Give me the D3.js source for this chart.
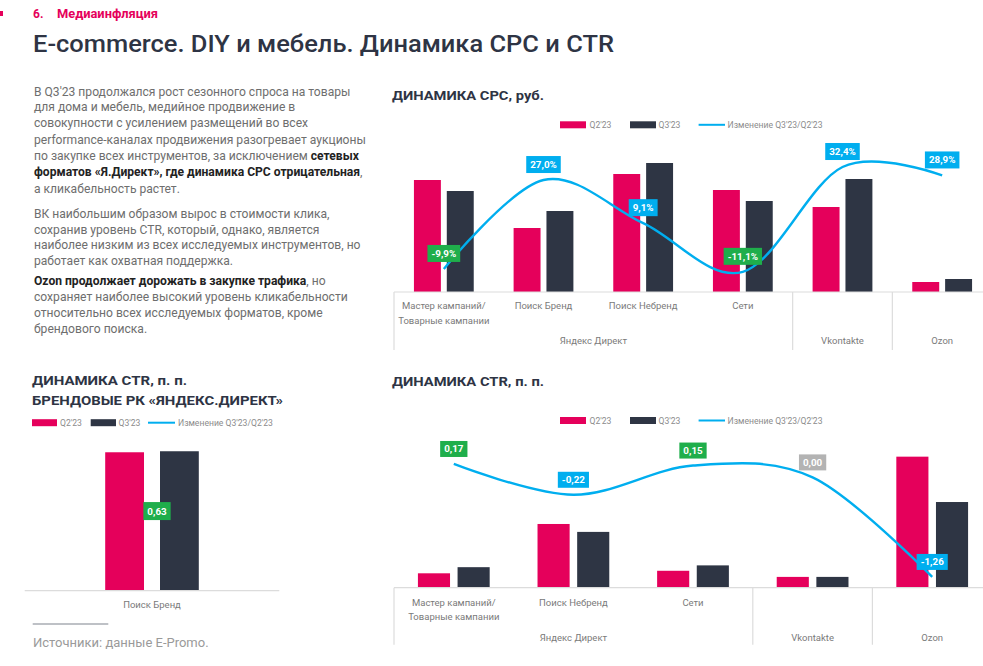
<!DOCTYPE html>
<html><head><meta charset="utf-8">
<script src="https://cdn.jsdelivr.net/npm/d3@7"></script>
<style>
body{margin:0;background:#fff;}
svg{display:block;font-family:Roboto,"Noto Sans",sans-serif;}
</style></head><body>
<svg id="chart" width="983" height="666"></svg>
<script>
// ---------------- DATA ----------------
const cpcCategories = ["Мастер кампаний/\nТоварные кампании", "Поиск Бренд", "Поиск Небренд", "Сети", "", ""];
const cpcGroups = ["Яндекс Директ", "Яндекс Директ", "Яндекс Директ", "Яндекс Директ", "Vkontakte", "Ozon"];
const cpcQ2 = [11.2, 6.4, 11.8, 10.2, 8.5, 1.0];
const cpcQ3 = [10.1, 8.1, 12.9, 9.1, 11.3, 1.3];
const cpcChange = [-9.9, 27.0, 9.1, -11.1, 32.4, 28.9];

const ctrCategories = ["Мастер кампаний/\nТоварные кампании", "Поиск Небренд", "Сети", "", ""];
const ctrGroups = ["Яндекс Директ", "Яндекс Директ", "Яндекс Директ", "Vkontakte", "Ozon"];
const ctrQ2 = [0.40, 1.77, 0.47, 0.30, 3.64];
const ctrQ3 = [0.57, 1.55, 0.62, 0.30, 2.38];
const ctrChange = [0.17, -0.22, 0.15, 0.00, -1.26];

const brandCategories = ["Поиск Бренд"];
const brandQ2 = [85.4];
const brandQ3 = [86.03];
const brandChange = [0.63];

const legendLabels = ["Q2'23", "Q3'23", "Изменение Q3'23/Q2'23"];

// ---------------- STYLE ----------------
const PINK = "#e5005b", DARK = "#2e3544", CYAN = "#00aeef", GREEN = "#1fae4b", GREY = "#b3b3b3";
const TXT = "#2e3444", AXIS = "#dcdcdc", LABEL = "#7a7a7a";

const svg = d3.select("#chart");

// header
svg.append("rect").attr("x", 0).attr("y", 11).attr("width", 3).attr("height", 5).attr("fill", PINK);
svg.append("text").attr("x", 33).attr("y", 17.5).attr("font-size", 12).attr("font-weight", 700)
  .attr("fill", PINK).text("6.");
svg.append("text").attr("x", 57).attr("y", 17.5).attr("font-size", 12).attr("font-weight", 700)
  .attr("fill", PINK).attr("textLength", 101).attr("lengthAdjust", "spacingAndGlyphs").text("Медиаинфляция");
svg.append("text").attr("x", 33).attr("y", 51.5).attr("font-size", 24).attr("font-weight", 500)
  .attr("fill", TXT).attr("textLength", 581).attr("lengthAdjust", "spacingAndGlyphs")
  .text("E-commerce. DIY и мебель. Динамика CPC и CTR");

// paragraph text
const paragraph = [
  [["В Q3'23 продолжался рост сезонного спроса на товары", 0]],
  [["для дома и мебель, медийное продвижение в", 0]],
  [["совокупности с усилением размещений во всех", 0]],
  [["performance-каналах продвижения разогревает аукционы", 0]],
  [["по закупке всех инструментов, за исключением ", 0], ["сетевых", 1]],
  [["форматов «Я.Директ», где динамика CPC отрицательная", 1], [",", 0]],
  [["а кликабельность растет.", 0]],
  [["ВК наибольшим образом вырос в стоимости клика,", 0]],
  [["сохранив уровень CTR, который, однако, является", 0]],
  [["наиболее низким из всех исследуемых инструментов, но", 0]],
  [["работает как охватная поддержка.", 0]],
  [["Ozon продолжает дорожать в закупке трафика", 1], [", но", 0]],
  [["сохраняет наиболее высокий уровень кликабельности", 0]],
  [["относительно всех исследуемых форматов, кроме", 0]],
  [["брендового поиска.", 0]]
];
const paraY = [91.7, 106.7, 123, 139.3, 156, 171.7, 188.3, 213.3, 229.3, 245, 260.7, 280.7, 296.7, 312.7, 328.3];
paragraph.forEach((line, i) => {
  const t = svg.append("text").attr("x", 34).attr("y", paraY[i] + 4.2).attr("font-size", 12.1);
  line.forEach(seg => {
    t.append("tspan").attr("fill", seg[1] ? "#222" : "#6e6e6e")
      .attr("font-weight", seg[1] ? 700 : 400).text(seg[0]);
  });
});

// chart titles
function title(x, y, txt, len) {
  svg.append("text").attr("x", x).attr("y", y + 4.6).attr("font-size", 13).attr("font-weight", 700)
    .attr("fill", TXT).attr("textLength", len).attr("lengthAdjust", "spacingAndGlyphs").text(txt);
}
title(392, 95, "ДИНАМИКА CPC, руб.", 152);
title(392, 381, "ДИНАМИКА CTR, п. п.", 152);
title(32, 380.7, "ДИНАМИКА CTR, п. п.", 155);
title(32, 400, "БРЕНДОВЫЕ РК «ЯНДЕКС.ДИРЕКТ»", 251);

// legend
function legend(cy, pos) {
  const g = svg.append("g");
  g.append("rect").attr("x", pos[0]).attr("y", cy - 3.5).attr("width", pos[1] - pos[0]).attr("height", 7).attr("fill", PINK);
  g.append("rect").attr("x", pos[3]).attr("y", cy - 3.5).attr("width", pos[4] - pos[3]).attr("height", 7).attr("fill", DARK);
  g.append("line").attr("x1", pos[6]).attr("x2", pos[7]).attr("y1", cy).attr("y2", cy)
    .attr("stroke", CYAN).attr("stroke-width", 2);
  [pos[2], pos[5], pos[8]].forEach((x, i) => {
    g.append("text").attr("x", x).attr("y", cy + 3.1).attr("font-size", 8.6).attr("fill", "#8c8c8c")
      .text(legendLabels[i]);
  });
}
legend(124.8, [560, 586, 589.5, 630, 656, 658.5, 698.6, 725, 727.6]);
legend(420.5, [560, 586, 589.5, 630, 656, 658.5, 698.6, 725, 727.6]);
legend(422.7, [32, 57, 60, 90.7, 116, 118.5, 148, 175, 178]);

// generic chart
function drawChart(cfg) {
  const n = cfg.q2.length;
  const g = svg.append("g");
  const x0 = d3.scaleBand().domain(d3.range(n)).range(cfg.xRange)
    .paddingInner(cfg.padIn).paddingOuter(cfg.padOut);
  const x1 = d3.scaleBand().domain(["q2", "q3"]).range([0, x0.bandwidth()]).paddingInner(cfg.subPad);
  const y = cfg.y, y2 = cfg.y2, base = y.range()[0];
  const cellL = i => x0(i) - x0.step() * x0.paddingInner() / 2;
  const cx = i => x0(i) + x0.bandwidth() / 2;

  // bars
  [["q2", cfg.q2, PINK], ["q3", cfg.q3, DARK]].forEach(([k, vals, col]) => {
    g.selectAll(null).data(vals).join("rect")
      .attr("x", (d, i) => x0(i) + x1(k)).attr("width", x1.bandwidth())
      .attr("y", d => y(d)).attr("height", d => base - y(d)).attr("fill", col);
  });

  // axis baseline
  g.append("line").attr("x1", cfg.xRange[0]).attr("x2", cfg.xRange[1]).attr("y1", base).attr("y2", base)
    .attr("stroke", AXIS).attr("stroke-width", 1.2);

  if (cfg.groups) {
    const bounds = [0];
    for (let i = 1; i < n; i++) if (cfg.groups[i] !== cfg.groups[i - 1]) bounds.push(i);
    bounds.push(n);
    bounds.forEach(b => {
      const xx = b < n ? cellL(b) : cfg.xRange[1];
      g.append("line").attr("x1", xx).attr("x2", xx).attr("y1", base).attr("y2", base + cfg.axisDepth)
        .attr("stroke", AXIS).attr("stroke-width", 1.2);
    });
    for (let k = 0; k < bounds.length - 1; k++) {
      const a = bounds[k], b = bounds[k + 1];
      const mid = (cellL(a) + (b < n ? cellL(b) : cfg.xRange[1])) / 2;
      g.append("text").attr("x", mid).attr("y", base + cfg.groupDy).attr("text-anchor", "middle")
        .attr("font-size", 9.5).attr("fill", LABEL).text(cfg.groups[a]);
    }
  }
  // category labels
  cfg.cats.forEach((c, i) => {
    if (!c) return;
    c.split("\n").forEach((ln, j) => {
      g.append("text").attr("x", cx(i)).attr("y", base + cfg.catDy + j * 14.5).attr("text-anchor", "middle")
        .attr("font-size", 9.5).attr("fill", LABEL).text(ln);
    });
  });

  // change line
  const pts = cfg.change.map((v, i) => [cx(i), y2(v)]);
  if (n > 1) {
    g.append("path").attr("d", d3.line().curve(d3.curveCardinal.tension(0))(pts))
      .attr("fill", "none").attr("stroke", CYAN).attr("stroke-width", 2.4);
  }
  // value labels
  cfg.change.forEach((v, i) => {
    const lx = pts[i][0] + (cfg.labelDx || 0), ly = pts[i][1] - 7 - cfg.boxH / 2;
    const lg = g.append("g");
    const r = lg.append("rect");
    const t = lg.append("text").attr("x", lx).attr("y", ly).attr("dy", "0.36em").attr("text-anchor", "middle")
      .attr("font-size", 9.8).attr("font-weight", 700).attr("fill", "#fff").text(cfg.fmt(v));
    const w = t.node().getComputedTextLength() + 8;
    r.attr("x", lx - w / 2).attr("y", ly - cfg.boxH / 2).attr("width", w).attr("height", cfg.boxH)
      .attr("fill", cfg.color(v));
  });
}

// CPC chart
drawChart({
  q2: cpcQ2, q3: cpcQ3, change: cpcChange, cats: cpcCategories, groups: cpcGroups,
  xRange: [394, 992], padIn: 0.4, padOut: 0.2, subPad: 0.18,
  y: d3.scaleLinear().domain([0, 13]).range([292, 162]),
  y2: d3.scaleLinear().domain([-10, 30]).range([269.2, 172.8]),
  axisDepth: 58, groupDy: 52, catDy: 17, boxH: 17,
  fmt: v => v.toFixed(1).replace(".", ",") + "%",
  color: v => v < 0 ? GREEN : CYAN
});

// CTR chart
drawChart({
  q2: ctrQ2, q3: ctrQ3, change: ctrChange, cats: ctrCategories, groups: ctrGroups,
  xRange: [394, 992], padIn: 0.4, padOut: 0.2, subPad: 0.19,
  y: d3.scaleLinear().domain([0, 4]).range([587.7, 443.7]),
  y2: d3.scaleLinear().domain([-1.5, 0.5]).range([595.9, 437.9]),
  axisDepth: 57, groupDy: 53, catDy: 18, boxH: 16,
  fmt: v => v.toFixed(2).replace(".", ","),
  color: v => v > 0 ? GREEN : (v < 0 ? CYAN : GREY)
});

// Brand CTR chart
drawChart({
  q2: brandQ2, q3: brandQ3, change: brandChange, cats: brandCategories, groups: null,
  xRange: [24.7, 279.3], padIn: 0, padOut: 0.86, subPad: 0.292,
  y: d3.scaleLinear().domain([0, 100]).range([590.7, 428.6]),
  y2: d3.scaleLinear().domain([0, 1]).range([590.7, 489.7]),
  axisDepth: 0, groupDy: 0, catDy: 17.5, boxH: 18, labelDx: 5,
  fmt: v => v.toFixed(2).replace(".", ","),
  color: v => v > 0 ? GREEN : (v < 0 ? CYAN : GREY)
});

// source
svg.append("line").attr("x1", 32.7).attr("x2", 108.3).attr("y1", 624).attr("y2", 624)
  .attr("stroke", "#a9adb3").attr("stroke-width", 1.3);
svg.append("text").attr("x", 33).attr("y", 647.3).attr("font-size", 12.5).attr("fill", "#9a9a9a")
  .attr("textLength", 175.6).attr("lengthAdjust", "spacingAndGlyphs").text("Источники: данные E-Promo.");
</script>
</body></html>
